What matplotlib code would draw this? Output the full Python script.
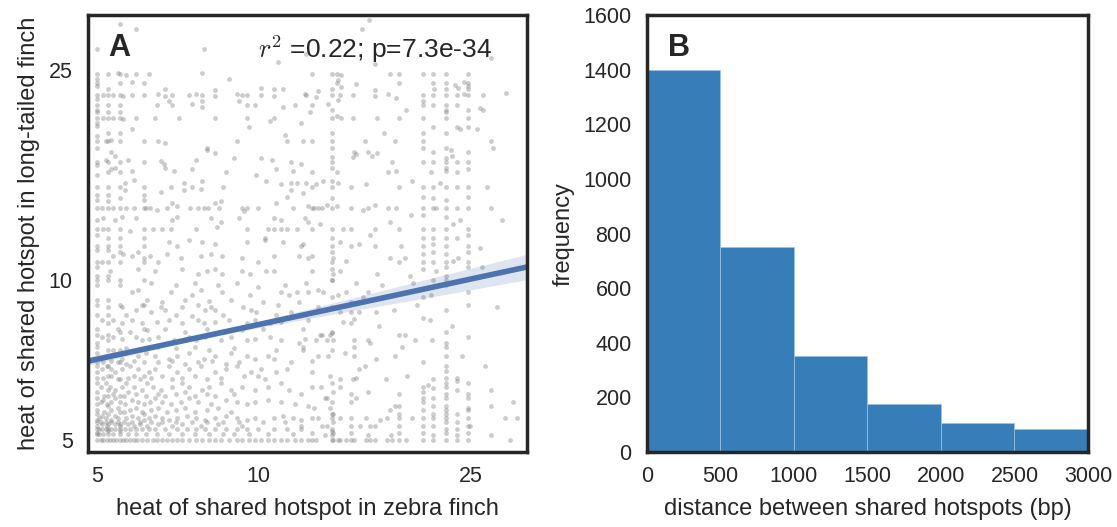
import numpy as np
import matplotlib.pyplot as plt
from matplotlib.ticker import NullLocator

plt.rcParams['font.family'] = ['Liberation Sans', 'DejaVu Sans']
plt.rcParams['mathtext.fontset'] = 'cm'

# ---- panel A: hotspot heat, zebra finch (x) vs long-tailed finch (y) ----

# hotspots sitting on a common heat value in the long-tailed finch
rows = [
    (24.5, [5.0, 5.24, 5.52, 5.9, 13.7, 14.0, 18.3, 20.3, 21.2, 22.4, 24.7]),
    (23.6, [5.0, 5.52, 6.1, 14.0, 18.3, 21.2, 22.4, 24.7]),
    (22.4, [5.0, 5.13, 5.24, 5.35, 5.52, 5.8, 6.1, 7.4, 7.85, 9.3, 9.5, 12.3,
            13.7, 14.2, 20.3, 21.2, 22.4, 23.5, 24.7, 26.3]),
    (21.4, [5.0, 5.24, 5.52, 6.9, 11.7, 12.6, 20.3, 21.2, 22.4, 23.5]),
    (20.3, [5.0, 5.13, 5.24, 5.35, 5.52, 5.9, 6.4, 7.1, 9.5, 10.7, 13.7, 14.3,
            16.7, 18.3, 20.3, 22.4, 24.7]),
    (18.3, [5.0, 5.24, 5.52, 6.1, 6.5, 9.1, 11.3, 12.1, 13.7, 15.8, 18.0, 20.3,
            27.2]),
    (16.7, [5.0, 5.24, 5.52, 6.1, 13.7, 20.3, 21.2, 22.4, 23.5, 24.7]),
    (15.0, [5.0, 5.24, 5.52, 6.1, 6.85, 7.5, 12.6, 13.7, 14.9, 18.3, 20.3, 21.2,
            22.4, 23.5, 24.7]),
    (13.7, [5.0, 5.1, 5.24, 5.35, 5.52, 5.65, 5.85, 6.1, 6.15, 6.28, 6.75, 7.45,
            7.7, 7.9, 8.05, 9.3, 9.5, 10.0, 12.6, 12.9, 13.15, 13.7, 14.9, 16.0,
            17.5, 18.1, 20.3, 21.2, 21.5, 22.4, 23.5, 24.7, 27.2]),
    (12.5, [5.0, 5.13, 5.24, 5.52, 6.1, 6.35, 6.6, 6.85, 7.65, 9.5, 10.4, 10.7,
            11.0, 11.3, 11.8, 12.6, 13.7, 14.4, 14.9, 16.5, 18.3, 20.3, 21.2,
            22.4, 24.7]),
    (11.6, [5.0, 5.24, 5.52, 6.1, 7.05, 13.7, 14.9, 20.3, 22.4, 24.7]),
    (10.85, [5.0, 5.1, 5.24, 5.52, 6.1, 6.5, 10.0, 13.7, 18.3, 20.3, 21.2, 22.4,
             24.7]),
    (10.0, [5.0, 5.24, 5.52, 13.7, 22.4]),
    (5.4, [5.0, 5.08, 5.18, 5.3, 5.45, 5.6, 5.8, 6.0, 6.3, 6.6, 7.0, 7.5, 8.0,
           8.6, 9.2, 10.2, 11.2]),
    (5.25, [5.0, 5.04, 5.1, 5.18, 5.24, 5.3, 5.4, 5.52, 5.62, 5.76, 5.9, 6.05,
            6.25, 6.4, 6.7, 7.05, 7.35, 7.65, 7.95, 8.3, 8.7, 9.1, 9.5, 10.0,
            10.7, 11.3, 12.0]),
    (5.12, [5.0, 5.04, 5.13, 5.24, 5.35, 5.5, 5.7, 5.9, 6.15, 6.45, 6.8, 7.2,
            7.6, 8.1, 8.6, 9.0, 9.6, 10.4, 11.6]),
    (5.0, [5.0, 5.08, 5.13, 5.2, 5.27, 5.35, 5.42, 5.52, 5.57, 5.65, 5.76, 5.84,
           5.92, 6.05, 6.2, 6.35, 6.45, 6.6, 6.75, 6.9, 7.05, 7.2, 7.4, 7.65,
           7.85, 8.1, 8.3, 8.5, 8.8, 9.1, 9.3, 9.6, 9.85, 10.1, 10.4, 10.7, 11.0,
           11.3, 11.7, 12.0, 12.4, 12.6, 12.8, 13.7, 13.8, 14.1, 14.2, 14.6,
           14.9, 15.1, 15.9, 16.2, 16.5, 17.4, 17.8, 18.3, 18.9, 20.3, 21.2,
           22.4, 23.5, 24.7, 29.6]),
]

# hotspots sitting on a common heat value in the zebra finch
columns = [
    (5.0, [5.15, 5.3, 5.45, 5.6, 5.7, 5.85, 6.0, 6.15, 6.4, 6.55, 6.7, 6.9, 7.0,
           7.3, 7.5, 7.6, 7.9, 8.1, 8.6, 9.0, 9.2, 9.8, 10.2, 10.6, 11.4, 12.2,
           13.0, 14.5, 15.8, 16.5, 18.7, 19.8, 21.0, 22.0, 23.3, 24.0]),
    (5.24, [5.2, 5.35, 5.6, 5.8, 6.05, 6.2, 6.6, 6.9, 7.4, 7.9, 8.6, 9.2, 10.2,
            11.4, 12.0, 14.5, 16.0, 19.0, 23.0]),
    (5.52, [5.2, 5.35, 5.65, 6.05, 6.5, 7.0, 7.4, 8.0, 9.0, 9.8, 11.3, 12.0,
            14.3, 16.0, 19.0]),
    (6.1, [5.6, 6.6, 8.1, 9.0, 10.0, 11.0, 12.0, 14.5]),
    (13.7, [5.6, 5.9, 6.4, 7.4, 8.0, 8.9, 9.3, 10.0, 10.5, 11.3, 12.0, 14.3,
            15.4, 16.3, 19.0, 21.0, 23.0]),
    (20.3, [5.7, 6.0, 7.0, 8.5, 9.3, 10.5, 11.2, 12.0, 13.3, 14.4, 19.0, 21.8]),
    (21.2, [5.6, 6.0, 10.0, 11.3, 12.0, 14.3, 19.5]),
    (22.4, [5.6, 5.8, 6.0, 6.4, 6.9, 7.2, 8.0, 8.8, 9.8, 10.2, 10.6, 11.2, 12.0,
            13.2, 14.2, 16.3, 17.0, 19.0, 21.0, 23.0]),
    (23.5, [5.4, 6.2, 12.0, 16.0, 19.5]),
    (24.7, [5.7, 6.4, 7.8, 9.0, 10.6, 11.3, 12.2, 14.4, 16.2, 19.5, 21.0, 23.3]),
]

# remaining hotspots (zebra heat, long-tailed heat)
scattered = [
    (16.1, 31.0), (5.5, 30.5), (5.9, 29.9), (15.6, 29.9), (5.0, 27.3), (7.9, 27.4),
    (27.2, 26.3), (5.45, 24.6), (5.65, 24.4), (6.25, 24.5), (7.85, 24.6),
    (12.6, 24.5), (14.3, 24.4), (17.6, 24.5), (5.8, 23.7), (15.2, 23.5),
    (23.3, 23.4), (24.2, 23.7), (14.1, 23.9), (6.7, 23.0), (8.3, 22.9),
    (10.1, 23.1), (10.7, 23.0), (11.1, 23.0), (12.9, 22.8), (14.3, 23.2),
    (16.5, 22.9), (21.3, 23.0), (23.6, 23.1), (24.7, 23.0), (5.57, 22.3),
    (6.5, 22.5), (6.7, 22.3), (6.9, 22.4), (7.65, 22.5), (8.3, 22.3), (9.1, 22.5),
    (10.1, 22.4), (10.7, 22.3), (12.2, 22.5), (12.8, 22.2), (15.0, 22.4),
    (16.5, 22.3), (17.5, 22.5), (18.1, 22.1), (24.2, 22.5), (6.8, 21.8),
    (7.85, 21.8), (14.1, 21.9), (6.45, 21.4), (7.5, 21.5), (7.85, 21.3),
    (9.5, 21.4), (9.85, 21.4), (11.1, 21.3), (13.5, 21.5), (26.0, 21.2),
    (26.3, 21.0), (5.0, 20.8), (5.24, 20.8), (5.52, 20.8), (12.5, 20.8),
    (22.4, 20.8), (5.57, 20.2), (8.3, 20.3), (14.0, 20.4), (15.0, 20.3),
    (5.8, 19.3), (23.8, 19.3), (25.6, 19.3), (5.0, 19.6), (5.18, 18.3),
    (6.7, 18.2), (12.6, 18.3), (5.3, 18.4), (5.0, 17.8), (8.0, 17.8),
    (13.7, 17.8), (20.3, 17.8), (22.4, 17.8), (5.3, 17.5), (8.0, 17.6),
    (8.3, 17.4), (15.1, 17.5), (15.2, 17.3), (16.0, 17.5), (16.7, 17.4),
    (21.2, 17.5), (22.9, 17.6), (24.7, 17.5), (5.4, 17.2), (15.0, 17.1),
    (16.3, 17.2), (23.0, 17.2), (13.7, 17.1), (5.18, 16.9), (5.7, 16.9),
    (6.56, 16.8), (6.65, 16.6), (7.65, 16.9), (10.1, 17.0), (10.6, 16.9),
    (11.5, 16.7), (12.0, 16.6), (17.8, 16.7), (5.3, 16.2), (5.4, 16.3),
    (5.8, 16.1), (6.7, 16.3), (6.95, 16.1), (7.5, 16.2), (8.7, 16.0),
    (10.8, 16.2), (11.6, 16.1), (12.6, 16.0), (14.0, 16.0), (17.5, 16.0),
    (18.1, 16.1), (21.0, 16.0), (22.4, 16.1), (5.62, 15.3), (5.85, 15.5),
    (7.25, 15.3), (7.85, 15.4), (10.35, 15.4), (11.0, 15.2), (11.5, 15.3),
    (11.8, 15.3), (12.3, 15.3), (12.8, 15.2), (13.2, 15.4), (14.1, 15.3),
    (15.9, 15.2), (19.4, 15.4), (21.9, 15.3), (5.62, 14.8), (6.56, 14.7),
    (7.25, 14.8), (7.8, 14.9), (11.5, 14.8), (12.1, 14.6), (5.0, 14.2),
    (5.24, 14.1), (6.1, 14.2), (6.9, 14.0), (8.3, 14.0), (8.5, 14.1),
    (10.8, 14.0), (6.45, 13.6), (7.05, 13.8), (8.45, 13.7), (11.6, 13.7),
    (12.4, 13.8), (12.7, 13.7), (13.45, 13.9), (14.0, 13.8), (15.7, 13.6),
    (16.5, 13.9), (5.13, 13.1), (5.4, 13.0), (5.55, 13.2), (5.9, 13.1),
    (6.9, 13.0), (7.05, 13.2), (8.15, 13.1), (8.5, 12.9), (9.2, 13.1),
    (10.7, 13.1), (11.0, 13.0), (12.2, 13.1), (12.4, 12.9), (13.05, 12.8),
    (17.6, 12.9), (23.1, 12.8), (23.8, 13.0), (5.76, 12.4), (8.35, 12.6),
    (6.8, 11.8), (7.4, 11.9), (7.85, 11.8), (8.3, 11.7), (9.5, 11.8),
    (10.3, 11.9), (11.1, 11.8), (12.1, 11.7), (12.0, 11.6), (14.2, 11.8),
    (15.4, 11.7), (16.5, 11.6), (21.2, 11.7), (26.0, 11.5), (5.35, 11.1),
    (5.57, 11.2), (5.8, 11.1), (5.95, 11.3), (6.28, 11.1), (6.75, 11.2),
    (7.15, 11.0), (7.8, 11.1), (8.15, 11.2), (8.55, 11.1), (9.3, 11.0),
    (10.7, 11.1), (11.9, 11.1), (12.4, 11.0), (12.6, 11.1), (13.8, 11.0),
    (14.6, 10.9), (17.6, 11.0), (18.8, 11.0), (23.1, 10.9), (23.6, 11.0),
    (5.27, 10.4), (5.95, 10.5), (6.4, 10.4), (7.2, 10.5), (7.7, 10.3),
    (8.0, 10.4), (8.3, 10.5), (8.55, 10.3), (9.3, 10.4), (9.65, 10.3),
    (10.35, 10.4), (10.7, 10.4), (12.6, 10.4), (13.8, 10.3), (14.2, 10.4),
    (16.7, 10.3), (19.2, 10.2), (21.5, 10.4), (5.8, 9.5), (5.95, 9.6),
    (6.85, 9.5), (7.5, 9.4), (7.8, 9.6), (8.55, 9.5), (9.65, 9.4), (11.0, 9.5),
    (11.4, 9.4), (11.8, 9.5), (12.4, 9.5), (12.9, 9.6), (13.2, 9.5),
    (14.1, 9.4), (14.6, 9.5), (15.7, 9.3), (16.0, 9.5), (21.0, 9.4),
    (24.7, 9.5), (5.24, 8.9), (5.55, 8.9), (5.9, 8.8), (6.05, 9.0),
    (6.56, 8.9), (6.7, 8.8), (7.2, 8.9), (7.7, 9.0), (7.95, 8.8), (8.15, 8.9),
    (8.3, 8.8), (9.35, 8.9), (9.7, 8.8), (14.9, 9.1), (14.9, 8.7), (14.9, 8.3),
    (15.1, 8.45), (14.2, 8.7), (15.4, 8.7), (16.6, 8.7), (14.4, 8.35),
    (5.1, 8.4), (5.24, 8.3), (5.35, 8.4), (5.55, 8.3), (5.8, 8.4), (6.05, 8.3),
    (6.45, 8.35), (6.8, 8.4), (7.2, 8.3), (7.7, 8.4), (7.9, 8.3), (8.3, 8.35),
    (8.8, 8.4), (9.5, 8.3), (9.85, 8.4), (10.5, 8.3), (11.0, 8.35),
    (5.1, 7.8), (5.24, 7.7), (5.35, 7.8), (5.55, 7.75), (5.9, 7.8),
    (6.05, 7.7), (6.25, 7.75), (6.5, 7.8), (6.95, 7.7), (7.4, 7.8),
    (7.65, 7.7), (7.95, 7.8), (8.5, 7.7), (8.9, 7.8), (9.5, 7.7), (9.85, 7.75),
    (10.5, 7.8), (11.0, 7.7), (12.2, 7.75), (12.1, 8.1), (13.15, 7.9),
    (13.6, 7.9), (18.3, 7.9), (18.8, 7.9), (12.8, 7.7), (13.45, 7.7),
    (13.8, 7.7), (15.1, 7.7), (16.0, 7.7), (19.6, 7.7), (21.1, 7.7),
    (12.1, 7.5), (15.1, 7.5), (22.4, 7.6), (22.4, 7.5), (13.05, 7.9),
    (13.75, 7.95), (5.24, 7.2), (5.55, 7.1), (5.95, 7.2), (6.15, 7.3),
    (6.4, 7.2), (6.8, 7.1), (7.05, 7.2), (7.4, 7.3), (7.9, 7.1), (8.3, 7.2),
    (8.9, 7.3), (9.5, 7.2), (9.85, 7.1), (10.4, 7.2), (10.7, 7.1), (12.1, 7.4),
    (12.6, 7.05), (12.9, 7.2), (13.5, 7.2), (15.1, 7.2), (15.8, 6.9),
    (16.6, 7.1), (18.0, 7.2), (5.1, 6.8), (5.2, 6.9), (5.3, 6.8), (5.4, 6.7),
    (5.55, 6.8), (5.76, 6.9), (5.95, 6.8), (6.25, 6.7), (6.4, 6.8), (6.8, 6.9),
    (7.05, 6.7), (7.4, 6.8), (7.8, 6.9), (8.3, 6.7), (8.7, 6.8), (9.1, 6.9),
    (9.7, 6.7), (10.1, 6.8), (10.8, 6.7), (11.3, 6.8), (12.6, 6.7),
    (13.6, 6.6), (14.2, 6.5), (15.0, 6.5), (15.2, 6.55), (20.8, 6.35),
    (21.2, 6.5), (22.4, 6.75), (22.4, 6.55), (23.5, 6.45), (23.5, 6.55),
    (5.08, 6.3), (5.18, 6.4), (5.27, 6.3), (5.4, 6.2), (5.55, 6.3),
    (5.65, 6.4), (5.85, 6.3), (6.05, 6.2), (6.2, 6.4), (6.35, 6.3),
    (6.56, 6.2), (6.9, 6.3), (7.2, 6.4), (7.4, 6.3), (7.85, 6.2), (8.1, 6.3),
    (8.5, 6.4), (8.9, 6.2), (9.3, 6.3), (9.85, 6.2), (10.4, 6.3), (11.0, 6.4),
    (11.4, 6.2), (12.0, 6.1), (12.6, 6.3), (13.45, 6.0), (13.8, 6.15),
    (14.2, 6.3), (14.9, 6.1), (15.2, 6.0), (16.0, 6.15), (18.3, 6.1),
    (20.3, 6.15), (20.3, 6.3), (21.2, 6.25), (22.4, 6.1), (22.4, 6.3),
    (24.7, 6.1), (27.2, 6.2), (5.08, 5.9), (5.13, 5.95), (5.2, 5.85),
    (5.3, 5.9), (5.4, 6.0), (5.52, 5.9), (5.62, 5.85), (5.8, 5.95),
    (5.95, 5.9), (6.1, 5.85), (6.28, 5.9), (6.4, 6.0), (6.6, 5.9),
    (6.85, 5.85), (7.15, 5.9), (7.4, 6.0), (7.7, 5.9), (8.15, 5.85),
    (8.7, 5.95), (9.1, 5.9), (9.5, 5.85), (9.85, 5.9), (10.4, 5.95),
    (11.0, 5.9), (11.7, 5.85), (12.4, 5.8), (12.7, 5.75), (13.35, 6.0),
    (13.6, 5.75), (13.8, 5.6), (14.9, 5.9), (17.6, 5.7), (18.0, 5.8),
    (18.3, 5.8), (18.3, 5.6), (20.3, 5.9), (21.2, 5.8), (22.4, 5.7),
    (23.5, 5.6), (24.7, 6.0), (24.7, 5.75), (27.2, 5.8), (5.04, 5.5),
    (5.1, 5.55), (5.18, 5.5), (5.3, 5.45), (5.4, 5.55), (5.45, 5.5),
    (5.65, 5.5), (5.8, 5.55), (5.95, 5.5), (6.1, 5.45), (6.25, 5.5),
    (6.4, 5.55), (6.6, 5.5), (6.8, 5.45), (7.05, 5.5), (7.35, 5.55),
    (7.65, 5.5), (7.95, 5.45), (8.3, 5.5), (8.7, 5.55), (9.1, 5.5),
    (9.5, 5.45), (9.85, 5.5), (10.7, 5.5), (11.1, 5.55), (11.6, 5.5),
    (12.0, 5.45), (12.0, 5.3), (12.6, 5.5), (12.9, 5.5), (13.15, 5.3),
    (13.45, 5.3), (13.7, 5.5), (13.7, 5.25), (13.8, 5.4), (14.2, 5.5),
    (14.9, 5.5), (14.9, 5.3), (15.5, 5.3), (15.9, 5.5), (16.2, 5.3),
    (16.5, 5.3), (16.9, 5.45), (17.4, 5.5), (18.3, 5.5), (18.3, 5.3),
    (19.4, 5.5), (20.3, 5.5), (20.3, 5.3), (21.2, 5.5), (21.2, 5.3),
    (22.4, 5.5), (22.4, 5.4), (22.4, 5.25), (23.5, 5.25), (24.7, 5.5),
    (24.7, 5.3), (24.9, 5.3), (28.9, 5.5), (30.4, 5.5), (12.6, 5.15),
    (13.35, 5.1), (13.7, 5.2), (13.7, 5.1), (13.8, 5.15), (14.9, 5.15),
    (16.0, 5.1), (17.7, 5.1), (18.3, 5.15), (20.3, 5.15), (21.2, 5.1),
    (22.4, 5.15), (23.5, 5.1), (24.7, 5.15), (27.2, 5.1),
]

# dense low-heat cloud plus sparse hotspots elsewhere
low_cloud = [
    (5.15, 5.65), (5.3, 5.7), (5.45, 5.75), (5.6, 5.65), (5.75, 5.7),
    (5.9, 5.75), (6.05, 5.65), (6.3, 5.7), (6.5, 5.75), (6.75, 5.65),
    (7.0, 5.7), (7.3, 5.75), (7.6, 5.65), (8.0, 5.7), (8.4, 5.75), (8.9, 5.65),
    (5.1, 5.35), (5.22, 5.3), (5.38, 5.35), (5.5, 5.3), (5.7, 5.35),
    (5.85, 5.3), (6.0, 5.35), (6.2, 5.3), (6.5, 5.35), (6.9, 5.3),
    (7.2, 5.35), (7.8, 5.3), (8.4, 5.35), (9.3, 5.3), (5.15, 6.05),
    (5.35, 6.1), (5.6, 6.05), (5.7, 6.15), (5.9, 6.1), (6.15, 6.05),
    (6.5, 6.1), (6.7, 6.05), (7.0, 6.1), (7.3, 6.15), (7.6, 6.05), (8.0, 6.1),
    (8.3, 6.05), (9.0, 6.1), (5.12, 6.55), (5.3, 6.6), (5.45, 6.5),
    (5.7, 6.55), (5.85, 6.6), (6.0, 6.5), (6.3, 6.55), (6.6, 6.6), (6.9, 6.5),
    (7.2, 6.55), (7.6, 6.6), (8.0, 6.5), (8.5, 6.55), (9.4, 6.6), (10.3, 6.5),
    (5.12, 7.0), (5.3, 7.05), (5.45, 7.0), (5.65, 6.95), (5.85, 7.05),
    (6.1, 7.0), (6.5, 7.0), (6.9, 7.05), (7.3, 6.95), (7.7, 7.0), (8.2, 7.05),
    (8.7, 6.95), (9.2, 7.0), (5.35, 7.4), (5.65, 7.45), (5.8, 7.35),
    (6.1, 7.45), (6.5, 7.5), (7.0, 7.45), (7.6, 7.5), (8.1, 7.4), (9.0, 7.45),
    (5.45, 8.1), (5.75, 8.0), (6.2, 8.05), (6.7, 8.1), (7.3, 8.0), (8.0, 8.1),
    (8.6, 8.0), (9.3, 8.05), (10.2, 8.1), (5.65, 8.6), (6.3, 8.7), (7.0, 8.6),
    (7.5, 8.55), (8.6, 8.6), (9.9, 8.7), (10.8, 8.6), (11.5, 8.7), (6.2, 9.2),
    (6.6, 9.1), (7.3, 9.2), (8.1, 9.15), (8.9, 9.2), (10.2, 9.1), (10.9, 9.0),
    (11.9, 9.1), (6.3, 9.9), (7.0, 9.8), (7.6, 9.9), (8.4, 9.8), (9.1, 9.9),
    (10.0, 9.7), (11.2, 9.8), (12.3, 9.9), (15.2, 9.9), (17.0, 9.8),
    (19.5, 9.9), (10.0, 6.6), (10.8, 7.4), (11.5, 7.0), (11.9, 7.6),
    (12.4, 8.4), (12.9, 8.9), (13.1, 6.3), (14.5, 7.3), (15.4, 6.8),
    (16.2, 7.6), (16.8, 8.2), (17.3, 6.5), (17.9, 8.8), (18.6, 7.5),
    (19.0, 6.6), (19.8, 9.0), (20.9, 8.4), (23.0, 8.2), (24.0, 7.2),
    (26.5, 6.9), (28.0, 8.9), (30.0, 5.9), (8.8, 24.0), (9.6, 19.5),
    (10.5, 20.0), (11.2, 18.8), (9.0, 17.0), (9.9, 15.8), (8.6, 15.0),
    (9.4, 13.5), (10.3, 12.0), (11.3, 14.4), (12.0, 19.8), (9.2, 21.8),
    (10.9, 25.8), (12.3, 26.8), (16.5, 25.6), (18.9, 21.0), (17.2, 19.0),
    (19.3, 13.3), (16.2, 12.2), (18.5, 11.6), (26.8, 15.0), (27.5, 17.8),
    (28.6, 13.0), (26.2, 10.6), (29.0, 22.6),
]

# log-log regression: log10(y) = fit_a + fit_b * log10(x), with CI half-width
fit_a, fit_b = 0.6999, 0.2166
ci_x = [4.8, 7.0, 10.0, 15.0, 20.0, 31.8]
ci_halfwidth = [0.008, 0.004, 0.006, 0.012, 0.017, 0.024]
stats_label = r'$r^2$ =0.22; p=7.3e-34'

# ---- panel B: distance between shared hotspots ----
bin_edges = [0, 500, 1000, 1500, 2000, 2500, 3000]
counts = [1400, 750, 350, 176, 106, 84]

zf_heat, ltf_heat = [], []
for y, xs in rows:
    zf_heat += xs
    ltf_heat += [y] * len(xs)
for x, ys in columns:
    zf_heat += [x] * len(ys)
    ltf_heat += ys
for x, y in scattered + low_cloud:
    zf_heat.append(x)
    ltf_heat.append(y)

dark = '#262626'
fig = plt.figure(figsize=(11.17, 5.27), dpi=100)
ax1 = fig.add_axes([0.0788, 0.1423, 0.393, 0.829])
ax2 = fig.add_axes([0.5792, 0.1423, 0.3948, 0.829])

ax1.scatter(zf_heat, ltf_heat, s=12, c='#808080', alpha=0.4, linewidths=0,
            zorder=1)
xs = np.geomspace(4.8, 31.8, 100)
line = 10 ** (fit_a + fit_b * np.log10(xs))
hw = np.interp(np.log10(xs), np.log10(ci_x), ci_halfwidth)
ax1.fill_between(xs, line * 10 ** -hw, line * 10 ** hw, color='#4c72b0',
                 alpha=0.18, linewidth=0, zorder=2)
ax1.plot(xs, line, color='#4c72b0', lw=4, zorder=3)

ax1.set_xscale('log')
ax1.set_yscale('log')
ax1.set_xlim(4.8, 31.8)
ax1.set_ylim(4.74, 31.7)
ax1.set_xticks([5, 10, 25])
ax1.set_xticklabels(['5', '10', '25'])
ax1.set_yticks([5, 10, 25])
ax1.set_yticklabels(['5', '10', '25'])
ax1.xaxis.set_minor_locator(NullLocator())
ax1.yaxis.set_minor_locator(NullLocator())
ax1.set_xlabel('heat of shared hotspot in zebra finch', fontsize=17,
               color=dark, labelpad=8)
ax1.set_ylabel('heat of shared hotspot in long-tailed finch', fontsize=17,
               color=dark, labelpad=6)
ax1.text(0.046, 0.925, 'A', transform=ax1.transAxes, fontsize=22,
         fontweight='bold', color=dark, va='center')
ax1.text(0.92, 0.922, stats_label, transform=ax1.transAxes, fontsize=19,
         color=dark, va='center', ha='right')

ax2.bar(bin_edges[:-1], counts, width=500, align='edge', color='#377eb8',
        edgecolor='#9cc2e5', linewidth=0.5)
ax2.set_xlim(0, 3000)
ax2.set_ylim(0, 1600)
ax2.set_xticks(range(0, 3001, 500))
ax2.set_yticks(range(0, 1601, 200))
ax2.set_xlabel('distance between shared hotspots (bp)', fontsize=17,
               color=dark, labelpad=8)
ax2.set_ylabel('frequency', fontsize=17, color=dark, labelpad=6)
ax2.text(0.048, 0.925, 'B', transform=ax2.transAxes, fontsize=22,
         fontweight='bold', color=dark, va='center')

for ax in (ax1, ax2):
    for sp in ax.spines.values():
        sp.set_linewidth(2.5)
        sp.set_color(dark)
        sp.set_zorder(5)
    ax.tick_params(length=0, labelsize=15.5, labelcolor=dark)
    ax.tick_params(axis='y', pad=11)
    ax.tick_params(axis='x', pad=10)

fig.savefig('out.png', dpi=100)
